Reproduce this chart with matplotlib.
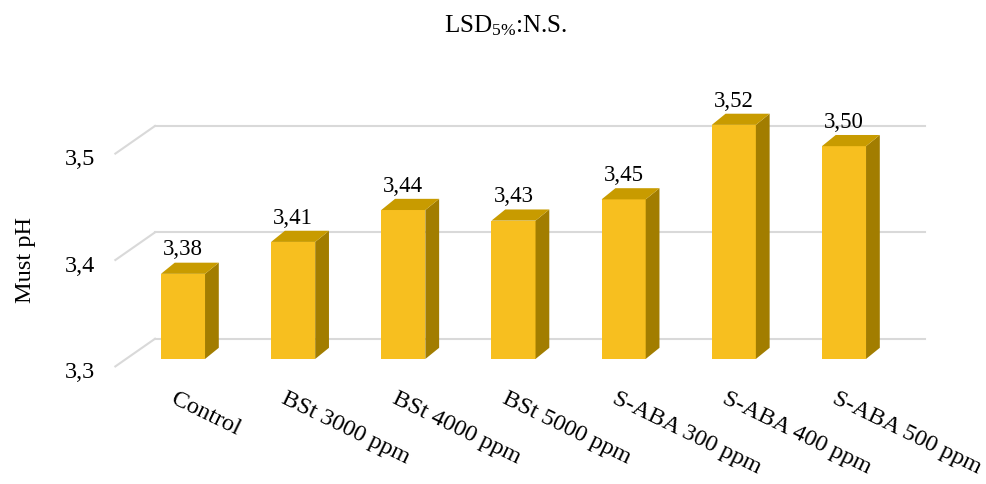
import matplotlib
matplotlib.use("Agg")
import matplotlib.pyplot as plt
from matplotlib.patches import Polygon
import numpy as np

plt.rcParams['font.family'] = ['Liberation Serif', 'DejaVu Serif']
plt.rcParams['mathtext.default'] = 'regular'

treatments = ['Control', 'BSt 3000 ppm', 'BSt 4000 ppm', 'BSt 5000 ppm',
              'S-ABA 300 ppm', 'S-ABA 400 ppm', 'S-ABA 500 ppm']
must_ph = [3.38, 3.41, 3.44, 3.43, 3.45, 3.52, 3.50]
yticks = [3.3, 3.4, 3.5]
ytick_labels = ['3,3', '3,4', '3,5']

front_c = '#F7BF1F'
top_c = '#C89B00'
side_c = '#A27D00'
grid_c = '#D9D9D9'

fig = plt.figure(figsize=(9.87, 4.85), dpi=100)
ax = fig.add_axes([0, 0, 1, 1])
# one x unit = 110 px, one pH unit = 1064 px
ax.set_xlim(-1.661, 7.298)
ax.set_ylim(3.1825, 3.6383)
ax.axis('off')

base = yticks[0]
w = 0.40          # bar front width
bdx, bdy = 0.125, 0.0105     # bar depth
wdx, wdy = 0.36, 0.026       # floor depth to back wall

# back wall gridlines with the left-side diagonals
for v, lab in zip(yticks, ytick_labels):
    yb = v + 0.019
    yf = yb - wdy
    ax.plot([-0.254 - wdx, -0.254], [yf, yb], color=grid_c, lw=1.5, zorder=1)
    ax.plot([-0.254, 6.735], [yb, yb], color=grid_c, lw=1.5, zorder=1)
    ax.text(-0.80, yf - 0.005, lab, ha='right', va='center', fontsize=17.5)

for i, v in enumerate(must_ph):
    x0, x1 = i - w / 2, i + w / 2
    ax.bar(i, v - base, width=w, bottom=base, color=front_c, zorder=3)
    side = [(x1, base), (x1 + bdx, base + bdy), (x1 + bdx, v + bdy), (x1, v)]
    top = [(x0, v), (x1, v), (x1 + bdx, v + bdy), (x0 + bdx, v + bdy)]
    ax.add_patch(Polygon(side, closed=True, facecolor=side_c, edgecolor='none', zorder=3))
    ax.add_patch(Polygon(top, closed=True, facecolor=top_c, edgecolor='none', zorder=3))
    ax.text(i, v + bdy + 0.003, f'{v:.2f}'.replace('.', ','), ha='center', va='bottom',
            fontsize=16.5, zorder=4)
    ax.text(i - 0.05, 3.2735, treatments[i], rotation=-26, rotation_mode='anchor',
            ha='left', va='top', fontsize=17.5)

fig.text(0.026, 0.463, 'Must pH', rotation=90, ha='center', va='center', fontsize=17.5)
fig.text(0.512, 0.948, r'LSD$_{5\%}$:N.S.', ha='center', va='center', fontsize=18)

plt.savefig('out.png', dpi=100)
